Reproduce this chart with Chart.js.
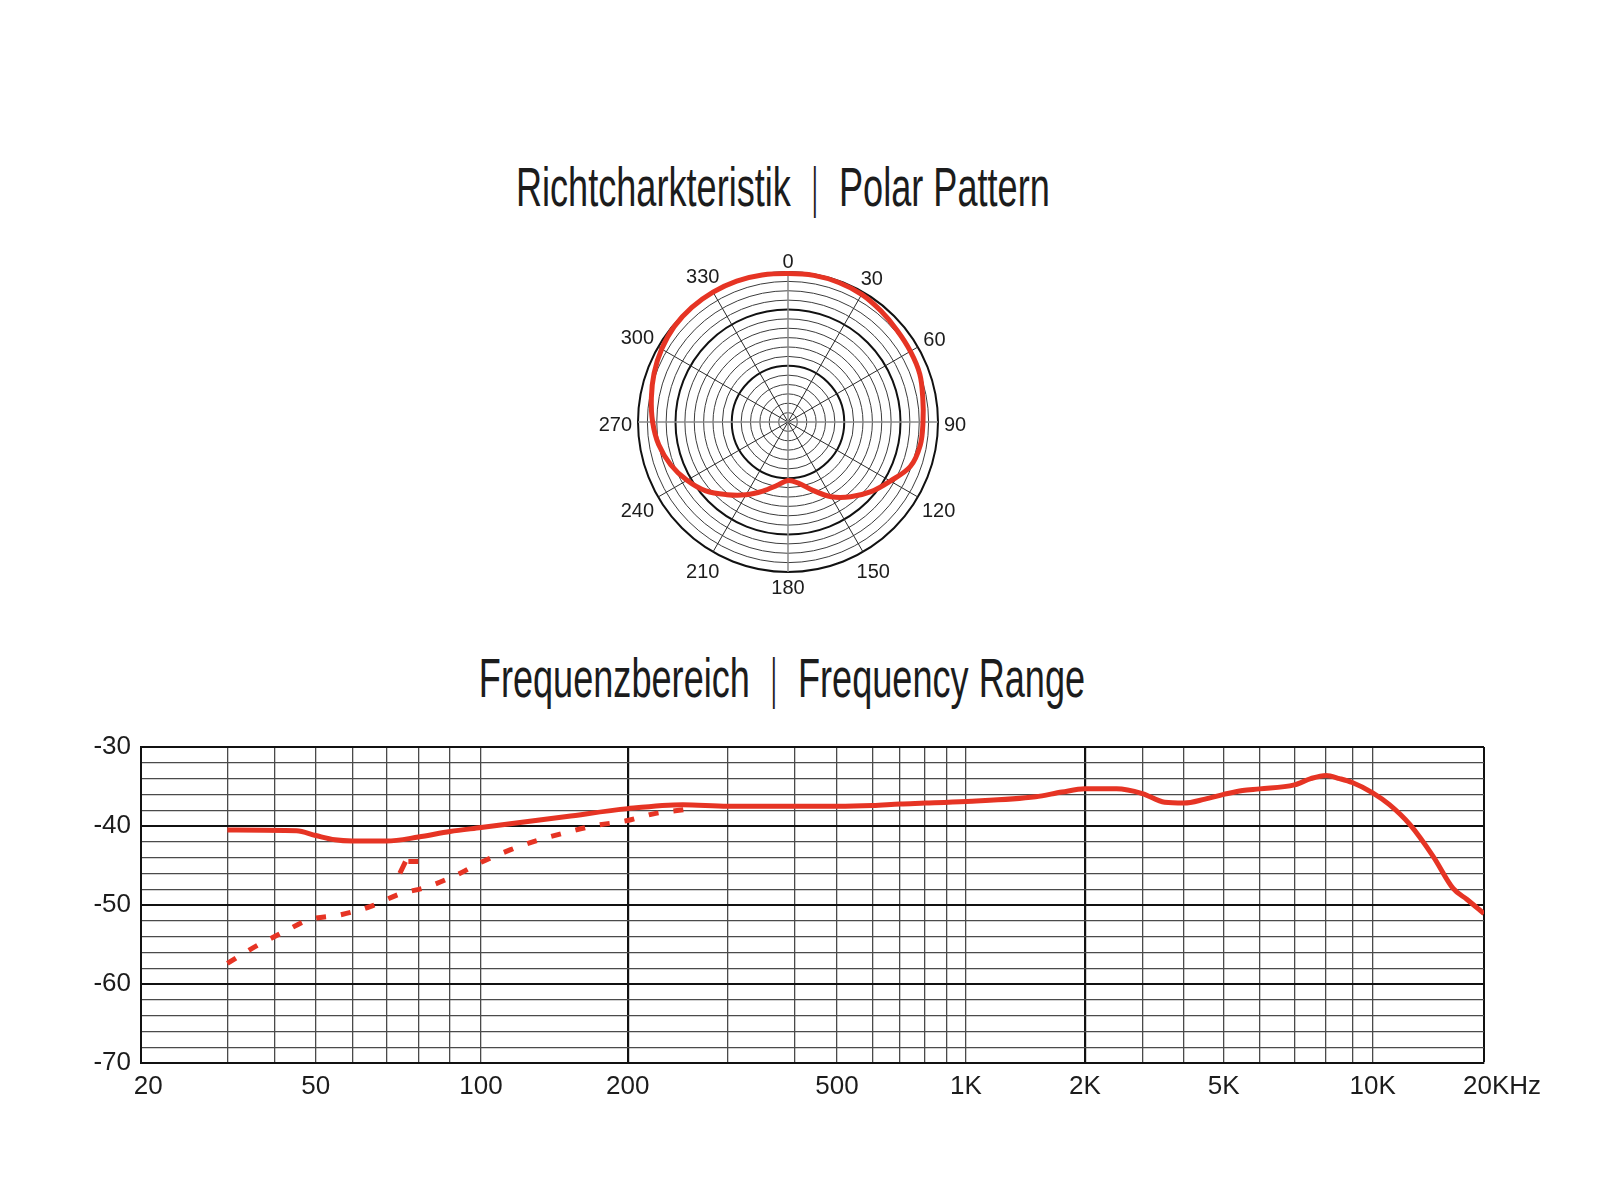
<!DOCTYPE html>
<html>
<head>
<meta charset="utf-8">
<title>Richtcharkteristik | Frequenzbereich</title>
<script src="https://cdn.jsdelivr.net/npm/chart.js@4.4.1/dist/chart.umd.min.js"></script>
<style>
  html, body { margin: 0; padding: 0; background: #fff; }
  body { width: 1600px; height: 1200px; position: relative; overflow: hidden; }
  .title {
    position: absolute; left: 0; text-align: center; white-space: nowrap;
    font-family: 'Liberation Sans', Arial, sans-serif;
    font-size: 56px; line-height: 56px; color: #1c1c1c;
  }
  .title .txt { display: inline-block; transform: scaleX(0.645); }
  .title .sep { display: inline-block; margin: 0 30px; transform: scaleX(0.6); }
  #polar-title { top: 159px; width: 1566px; }
  #freq-title { top: 650px; width: 1564px; }
  canvas { position: absolute; }
  #polar { left: 588px; top: 222px; }
  #freq { left: 0; top: 700px; }
</style>
</head>
<body>
<div class="title" id="polar-title"><span class="txt">Richtcharkteristik<span class="sep">|</span>Polar Pattern</span></div>
<div class="title" id="freq-title"><span class="txt">Frequenzbereich<span class="sep">|</span>Frequency Range</span></div>
<canvas id="polar" width="400" height="400"></canvas>
<canvas id="freq" width="1600" height="420"></canvas>

<script>
const red = '#e63424';

// Polar pattern, level in dB every 10 degrees (0 = front)
const polarAngles = [0, 10, 20, 30, 40, 50, 60, 70, 80, 90, 100, 110,
  120, 130, 140, 150, 160, 170, 180, 190, 200, 210, 220, 230,
  240, 250, 260, 270, 280, 290, 300, 310, 320, 330, 340, 350];
const polarLevel = [-0.4, -0.3, -0.4, -0.7, -1.4, -2.0, -2.3, -2.6, -3.5, -4.0, -4.2, -5.3,
  -8.5, -11.1, -14.0, -17.0, -20.6, -23.4, -24.4, -22.8, -20.4, -17.6, -14.7, -11.4,
  -8.9, -6.7, -5.0, -3.9, -3.0, -2.0, -1.1, -0.4, -0.1, 0, 0, -0.2];

// Frequency response
const gridHz = [20, 30, 40, 50, 60, 70, 80, 90, 100, 200, 300, 400, 500, 600, 700, 800, 900,
  1000, 2000, 3000, 4000, 5000, 6000, 7000, 8000, 9000, 10000, 20000];
const labelHz = [20, 50, 100, 200, 500, 1000, 2000, 5000, 10000, 20000];
const labelText = ['20', '50', '100', '200', '500', '1K', '2K', '5K', '10K', '20KHz'];

const responseHz = [30, 45, 50, 55, 60, 70, 80, 90, 100, 150, 200, 250, 300, 400, 500, 600, 700, 800,
  1000, 1500, 1750, 2000, 2500, 3000, 3500, 4000, 4500, 5000, 5500, 6000, 7000, 7500, 8000, 8500,
  9000, 10000, 11100, 12600, 14600, 16500, 18000, 20000];
const responseDb = [-40.5, -40.6, -41.2, -41.75, -41.9, -41.9, -41.4, -40.7, -40.2, -38.8, -37.8, -37.3, -37.5, -37.5, -37.5, -37.4, -37.2, -37.1,
  -36.9, -36.3, -35.7, -35.3, -35.3, -35.9, -37.0, -37.1, -36.6, -36.0, -35.5, -35.3, -34.8, -34.0, -33.6, -34.0,
  -34.5, -35.8, -37.3, -39.8, -43.9, -47.9, -49.3, -51.1];

const bassCutHz = [30, 36, 42, 48, 57, 65, 74, 82, 92, 100, 115, 131, 150, 170, 200, 224, 253, 265];
const bassCutDb = [-57.4, -55.1, -53.4, -51.9, -51.2, -50.2, -48.6, -47.8, -46.2, -44.6, -43.0, -41.8, -40.8, -40.0, -39.3, -38.4, -37.9, -37.6];

const hookHz = [74, 75.8, 80];
const hookDb = [-46.0, -44.5, -44.5];

// The printed log paper is not an exact log scale: where each grid line
// of gridHz sits across the plot width (0..1). Between lines it is log.
const paperPos = [0, 0.0643, 0.0998, 0.1301, 0.1573, 0.1829, 0.2065, 0.2301, 0.2532,
  0.3624, 0.4369, 0.4864, 0.5182, 0.5448, 0.5652, 0.5838, 0.5999, 0.6143,
  0.7029, 0.7456, 0.7766, 0.8062, 0.8330, 0.8588, 0.8824, 0.9019, 0.9171, 1];

function paperDecimal(hz) {
  const v = Math.log10(hz);
  let i = 1;
  while (i < gridHz.length - 1 && hz > gridHz[i]) i++;
  const a = Math.log10(gridHz[i - 1]), b = Math.log10(gridHz[i]);
  return paperPos[i - 1] + (v - a) / (b - a) * (paperPos[i] - paperPos[i - 1]);
}

function paperValue(dec) {
  let i = 1;
  while (i < paperPos.length - 1 && dec > paperPos[i]) i++;
  const a = Math.log10(gridHz[i - 1]), b = Math.log10(gridHz[i]);
  const t = (dec - paperPos[i - 1]) / (paperPos[i] - paperPos[i - 1]);
  return Math.pow(10, a + t * (b - a));
}

class FreqScale extends Chart.LinearScale {
  buildTicks() {
    return gridHz.map(value => ({ value }));
  }
  getPixelForValue(value) {
    return this.getPixelForDecimal(paperDecimal(value));
  }
  getValueForPixel(pixel) {
    return paperValue(this.getDecimalForPixel(pixel));
  }
}
FreqScale.id = 'freq';
FreqScale.defaults = {};
Chart.register(FreqScale);

const axisFont = { family: "'Liberation Sans', Arial, sans-serif", size: 26 };

// angle numbers round the polar plot
const angleLabels = {
  id: 'angleLabels',
  afterDraw(chart) {
    const r = chart.scales.r;
    const ctx = chart.ctx;
    ctx.save();
    ctx.font = "20px 'Liberation Sans', Arial, sans-serif";
    ctx.fillStyle = '#1c1c1c';
    ctx.textAlign = 'center';
    ctx.textBaseline = 'middle';
    polarAngles.forEach((deg, i) => {
      if (deg % 30) return;
      const text = String(deg);
      const a = deg * Math.PI / 180;
      const reach = Math.abs(Math.sin(a)) * ctx.measureText(text).width / 2 + Math.abs(Math.cos(a)) * 7;
      const p = r.getPointPosition(i, r.drawingArea + 6 + reach);
      ctx.fillText(text, p.x, p.y + 3);
    });
    ctx.restore();
  }
};

function createPolar() {
  new Chart(document.getElementById('polar'), {
    type: 'radar',
    data: {
      labels: polarAngles,
      datasets: [{
        data: polarLevel,
        borderColor: red,
        borderWidth: 5,
        pointRadius: 0,
        fill: false,
        tension: 0.35,
      }]
    },
    options: {
      responsive: false,
      animation: false,
      layout: { padding: 50 },
      plugins: { legend: { display: false }, tooltip: { enabled: false } },
      scales: {
        r: {
          min: -40,
          max: 0,
          ticks: { display: false, stepSize: 2.5 },
          pointLabels: { display: false },
          grid: {
            circular: true,
            color: (c) => [0, -10, -25].includes(c.tick.value) ? '#111' : '#3c3c3c',
            lineWidth: (c) => [0, -10, -25].includes(c.tick.value) ? 2 : 1,
          },
          angleLines: {
            color: (c) => polarAngles[c.index] % 90 === 0 ? '#8a8a8a' : '#2a2a2a',
            lineWidth: (c) => {
              const deg = polarAngles[c.index];
              if (deg % 30) return 0;
              return deg % 90 === 0 ? 1.5 : 1;
            },
          },
        }
      }
    },
    plugins: [angleLabels]
  });
}

function createFrequency() {
  const pts = (xs, ys) => xs.map((x, i) => ({ x, y: ys[i] }));
  const line = {
    borderColor: red,
    borderWidth: 5,
    pointRadius: 0,
    fill: false,
  };

  new Chart(document.getElementById('freq'), {
    type: 'line',
    data: {
      datasets: [
        { ...line, data: pts(responseHz, responseDb), cubicInterpolationMode: 'monotone' },
        { ...line, data: pts(bassCutHz, bassCutDb), cubicInterpolationMode: 'monotone', borderDash: [10, 15], borderCapStyle: 'butt' },
        { ...line, data: pts(hookHz, hookDb), tension: 0, borderDash: [13, 3], borderCapStyle: 'butt' },
      ]
    },
    options: {
      responsive: false,
      animation: false,
      layout: { padding: { left: 0, right: 116, top: 47, bottom: 0 } },
      plugins: { legend: { display: false }, tooltip: { enabled: false } },
      scales: {
        x: {
          type: 'freq',
          min: 20,
          max: 20000,
          grid: {
            drawTicks: false,
            color: (c) => [200, 2000, 20000].includes(c.tick.value) ? '#111' : '#4a4a4a',
            lineWidth: (c) => [200, 2000].includes(c.tick.value) ? 2.2 : (c.tick.value === 20000 ? 2 : 1.3),
          },
          border: { color: '#111', width: 2 },
          ticks: {
            autoSkip: false,
            maxRotation: 0,
            minRotation: 0,
            padding: 8,
            color: '#1c1c1c',
            font: axisFont,
            callback: (value) => {
              const i = labelHz.indexOf(value);
              if (i < 0) return '';
              // end labels sit a little inside their lines, as printed
              if (value === 20) return '  ' + labelText[i];
              if (value === 20000) return '     ' + labelText[i];
              return labelText[i];
            },
          },
          afterFit: (s) => { s.height = 57; s.paddingLeft = 0; s.paddingRight = 0; },
        },
        y: {
          min: -70,
          max: -30,
          grid: {
            drawTicks: false,
            color: (c) => c.tick.value % 10 === 0 ? '#111' : '#4a4a4a',
            lineWidth: (c) => c.tick.value % 10 === 0 ? 2 : 1.2,
          },
          border: { color: '#111', width: 2 },
          ticks: {
            stepSize: 2,
            autoSkip: false,
            padding: 10,
            color: '#1c1c1c',
            font: axisFont,
            callback: (value) => value % 10 === 0 ? String(value) : '',
          },
          afterFit: (s) => { s.width = 141; s.paddingTop = 0; s.paddingBottom = 0; },
        }
      }
    }
  });
}

createPolar();
createFrequency();
</script>
</body>
</html>
